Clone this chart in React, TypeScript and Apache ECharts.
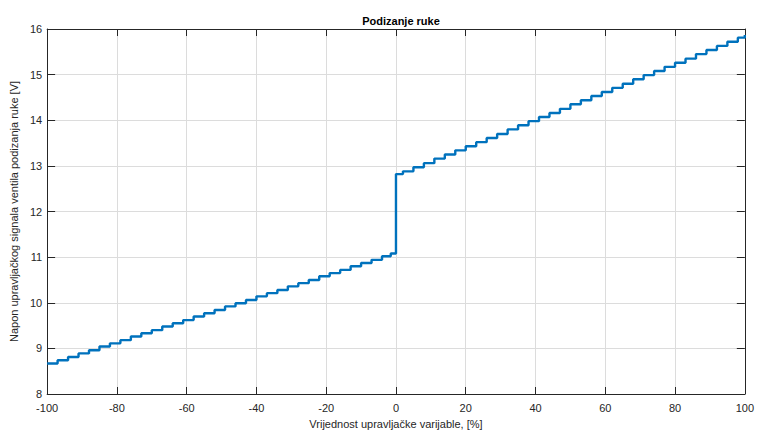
import React, { useEffect, useRef } from "react";
import * as echarts from "echarts";

const title = "Podizanje ruke";
const xAxisName = "Vrijednost upravljačke varijable, [%]";
const yAxisName = "Napon upravljačkog signala ventila podizanja ruke [V]";

const xTicks = [-100, -80, -60, -40, -20, 0, 20, 40, 60, 80, 100];
const yTicks = [8, 9, 10, 11, 12, 13, 14, 15, 16];

// Negative branch: step start positions and levels
const leftX = [-100, -97, -94, -91, -88, -85, -82, -79, -76, -73, -70, -67, -64, -61, -58, -55, -52, -49, -46, -43, -40, -37, -34, -31, -28, -25, -22, -19, -16, -13, -10, -7, -4, -1.5, 0];
const leftY = [8.67, 8.74, 8.81, 8.89, 8.96, 9.04, 9.11, 9.18, 9.26, 9.33, 9.40, 9.48, 9.55, 9.62, 9.70, 9.77, 9.84, 9.92, 9.99, 10.06, 10.14, 10.21, 10.28, 10.36, 10.43, 10.50, 10.58, 10.65, 10.72, 10.80, 10.87, 10.94, 11.02, 11.08, 11.08];

// Positive branch
const rightX = [0, 2, 5, 8, 11, 14, 17, 20, 23, 26, 29, 32, 35, 38, 41, 44, 47, 50, 53, 56, 59, 62, 65, 68, 71, 74, 77, 80, 83, 86, 89, 92, 95, 98, 100];
const rightY = [12.82, 12.88, 12.97, 13.06, 13.16, 13.25, 13.34, 13.43, 13.52, 13.61, 13.70, 13.80, 13.89, 13.98, 14.07, 14.16, 14.25, 14.35, 14.44, 14.53, 14.62, 14.71, 14.80, 14.90, 14.99, 15.08, 15.17, 15.26, 15.35, 15.45, 15.54, 15.63, 15.72, 15.81, 15.87];

const FONT = "Liberation Sans, Arial, Helvetica, sans-serif";
const AXIS_COLOR = "#262626";
const GRID_COLOR = "#dcdcdc";

export default function App() {
  const ref = useRef<HTMLDivElement>(null);

  useEffect(() => {
    if (!ref.current) return;
    const chart = echarts.init(ref.current, undefined, { renderer: "svg" });
    const data: [number, number][] = [];
    leftX.forEach((x, i) => data.push([x, leftY[i]]));
    rightX.forEach((x, i) => data.push([x, rightY[i]]));

    const xMin = xTicks[0];
    const xMax = xTicks[xTicks.length - 1];
    const yMin = yTicks[0];
    const yMax = yTicks[yTicks.length - 1];

    const baseX = {
      type: "value" as const,
      min: xMin,
      max: xMax,
      interval: 20,
      axisLine: { show: true, onZero: false, lineStyle: { color: AXIS_COLOR, width: 1 } },
      axisTick: { show: true, inside: true, length: 7, lineStyle: { color: AXIS_COLOR } },
    };
    const baseY = {
      type: "value" as const,
      min: yMin,
      max: yMax,
      interval: 1,
      axisLine: { show: true, onZero: false, lineStyle: { color: AXIS_COLOR, width: 1 } },
      axisTick: { show: true, inside: true, length: 8, lineStyle: { color: AXIS_COLOR } },
    };

    chart.setOption({
      animation: false,
      backgroundColor: "#ffffff",
      title: {
        text: title,
        left: 396,
        textAlign: "center",
        top: 10,
        textStyle: { fontFamily: FONT, fontSize: 11, fontWeight: "bold", color: "#000" },
      },
      grid: { left: 44, right: 9, top: 29, bottom: 36, containLabel: false },
      xAxis: [
        {
          ...baseX,
          position: "bottom",
          name: xAxisName,
          nameLocation: "middle",
          nameGap: 24,
          nameTextStyle: { fontFamily: FONT, fontSize: 11, color: AXIS_COLOR },
          axisLabel: { show: true, margin: 8, fontFamily: FONT, fontSize: 11, color: AXIS_COLOR },
          splitLine: { show: true, lineStyle: { color: GRID_COLOR, width: 1 } },
        },
        {
          ...baseX,
          position: "top",
          axisLabel: { show: false },
          splitLine: { show: false },
        },
      ],
      yAxis: [
        {
          ...baseY,
          position: "left",
          name: yAxisName,
          nameLocation: "middle",
          nameGap: 23,
          nameTextStyle: { fontFamily: FONT, fontSize: 11, color: AXIS_COLOR },
          axisLabel: { show: true, margin: 5, fontFamily: FONT, fontSize: 11, color: AXIS_COLOR },
          splitLine: { show: true, lineStyle: { color: GRID_COLOR, width: 1 } },
        },
        {
          ...baseY,
          position: "right",
          axisLabel: { show: false },
          splitLine: { show: false },
        },
      ],
      series: [
        {
          type: "line",
          xAxisIndex: 0,
          yAxisIndex: 0,
          data,
          step: "end",
          showSymbol: false,
          symbol: "none",
          lineStyle: { color: "#0072BD", width: 2.4 },
          z: 5,
        },
      ],
    });
    return () => chart.dispose();
  }, []);

  return (
    <div
      ref={ref}
      style={{ position: "fixed", left: 0, top: 0, width: 757, height: 434, background: "#fff" }}
    />
  );
}
